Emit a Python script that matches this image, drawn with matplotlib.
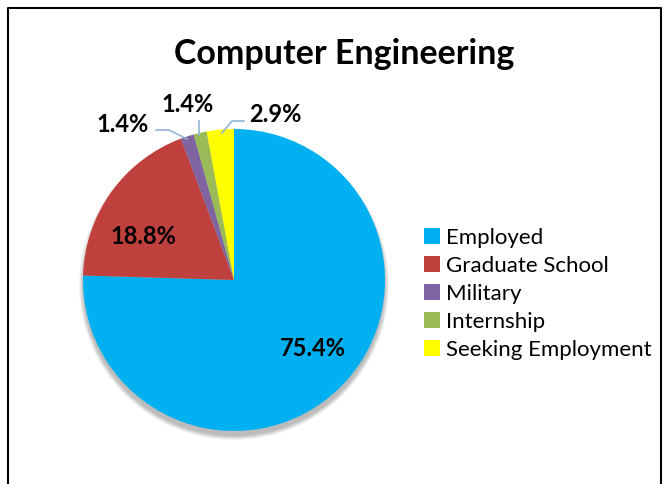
import matplotlib.pyplot as plt
from matplotlib.patches import Circle

categories = ['Employed', 'Graduate School', 'Military', 'Internship', 'Seeking Employment']
values = [75.4, 18.8, 1.4, 1.4, 2.9]
colors = ['#00B0F0', '#C0403D', '#8064A2', '#9BBB59', '#FFFF00']
title = 'Computer Engineering'

plt.rcParams['font.family'] = ['Lato', 'DejaVu Sans']

fig = plt.figure(figsize=(6.68, 4.84), dpi=100)
ax = fig.add_axes([0, 0, 1, 1])

cx, cy, r = 234, 280, 151

# soft shadow under the pie
for i in range(8):
    ax.add_patch(Circle((cx, cy + 5), r + 4 - i * 0.6, color='black', alpha=0.035, zorder=1, lw=0))

# y is inverted, so counterclock=True draws clockwise on screen
wedges, _ = ax.pie(values, colors=colors, startangle=-90, counterclock=True,
                   center=(cx, cy), radius=r, frame=True,
                   wedgeprops=dict(linewidth=0, zorder=2))
ax.set_xlim(0, 668)
ax.set_ylim(484, 0)
ax.set_aspect('equal')
ax.axis('off')

# labels
lab = [f'{v}%' for v in values]
fs = 17
ax.text(313, 348, lab[0], fontsize=fs, fontweight='bold', ha='center', va='center', zorder=5)
ax.text(143, 236, lab[1], fontsize=fs, fontweight='bold', ha='center', va='center', zorder=5)
ax.text(123, 125, lab[2], fontsize=fs, fontweight='bold', ha='center', va='center', zorder=5)
ax.text(188, 104, lab[3], fontsize=fs, fontweight='bold', ha='center', va='center', zorder=5)
ax.text(275, 114, lab[4], fontsize=fs, fontweight='bold', ha='center', va='center', zorder=5)

lc = '#95B3D7'
ax.plot([156, 169, 187], [130, 130, 139], color=lc, lw=1.2, zorder=4)
ax.plot([199, 199], [121, 135], color=lc, lw=1.2, zorder=4)
ax.plot([244, 232, 222], [121, 121, 133], color=lc, lw=1.2, zorder=4)

ax.text(344, 54, title, fontsize=24.5, fontweight='bold', ha='center', va='center')

leg = ax.legend(wedges, categories, loc='upper left', bbox_to_anchor=(424 / 668, 1 - 228 / 484),
                frameon=False, fontsize=16, handlelength=0.7, handleheight=0.7,
                handletextpad=0.3, labelspacing=0.36, borderaxespad=0, borderpad=0)

# chart border
ax.plot([7.5, 7.5, 660.5, 660.5], [490, 7.5, 7.5, 490], color='black', lw=1.5, clip_on=False)

fig.savefig('out.png', dpi=100)
